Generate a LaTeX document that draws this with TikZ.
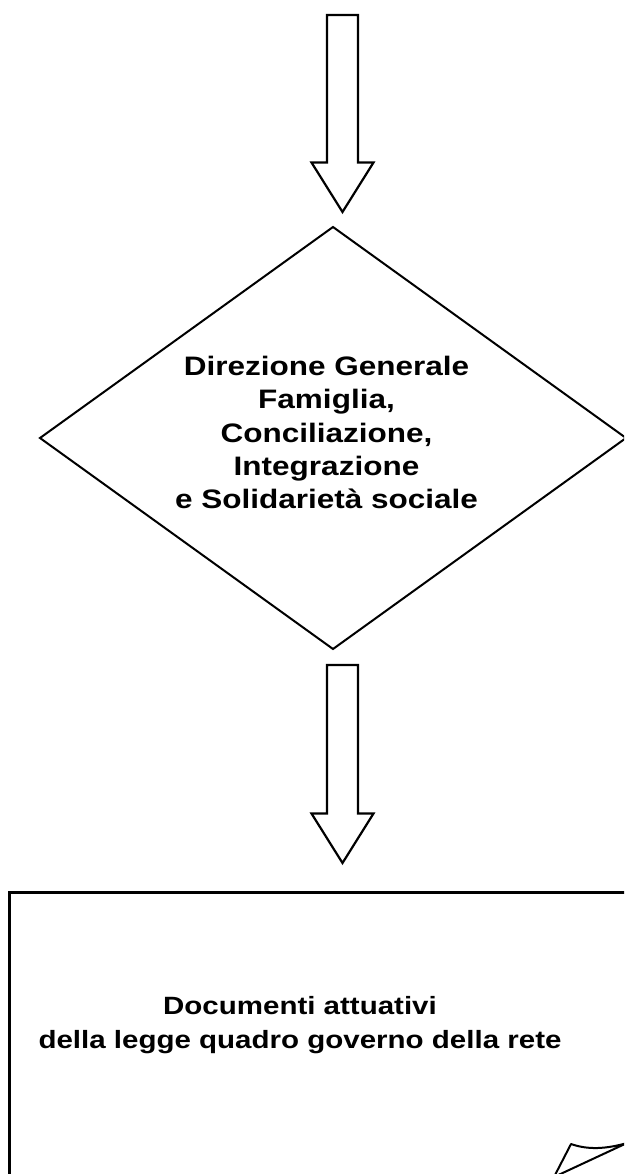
\documentclass[tikz,border=0pt]{standalone}
\usepackage{fontspec}
\usetikzlibrary{positioning,calc,shapes.geometric}
\newfontfamily\flowfont[FakeStretch=1.18]{Liberation Sans}
\tikzset{
    decision/.style={diamond, draw, line width=2pt, minimum width=586pt, minimum height=422pt, inner sep=0pt, outer sep=0pt},
    docbox/.style={rectangle, draw, line width=2.6pt, minimum width=640pt, minimum height=330pt, inner sep=0pt, outer sep=0pt, anchor=north west},
    flowtext/.style={align=center, inner sep=0pt, font=\flowfont\bfseries\fontsize{26.7}{33.3}\selectfont},
    doctext/.style={align=center, inner sep=0pt, font=\flowfont\bfseries\fontsize{25}{34.3}\selectfont},
    arrowbox/.style={draw, line width=2.2pt, line join=miter, fill=white},
    curl/.style={draw, line width=2pt, line join=round}
}
\newcommand{\blockarrow}[2]{%
    \draw[arrowbox] ($(#1)+(-15.5,0)$) -- ($(#2)+(-15.5,-49.5)$) -- ($(#2)+(-31,-49.5)$) -- (#2)
        -- ($(#2)+(31,-49.5)$) -- ($(#2)+(15.5,-49.5)$) -- ($(#1)+(15.5,0)$) -- cycle;}

\begin{document}
\begin{tikzpicture}[x=1pt, y=-1pt]
    \useasboundingbox (0,0) rectangle (624,1174);
    \clip (0,0) rectangle (624,1174);

    \node[decision] (dg) at (333,438) {};
    \node[flowtext] (dglabel) at (326.5,432.7) {Direzione Generale\\Famiglia,\\Conciliazione,\\Integrazione\\e Solidarietà sociale};

    \node[docbox] (doc) at (9.5,892.7) {};
    \node[doctext] (doclabel) at (300,1024.8) {Documenti attuativi\\della legge quadro governo della rete};

    \coordinate (in) at (342.5,15);
    \coordinate (in tip) at ($(in |- dg.north)+(0,-15)$);
    \coordinate (out) at ($(in |- dg.south)+(0,16)$);
    \coordinate (out tip) at ($(in |- doc.north)+(0,-29.7)$);

    \blockarrow{in}{in tip}
    \blockarrow{out}{out tip}

    % curled page corner
    \draw[curl] (554,1177) -- (571,1144) .. controls (588,1150) and (606,1149) .. (627,1143) -- cycle;
\end{tikzpicture}
\end{document}
